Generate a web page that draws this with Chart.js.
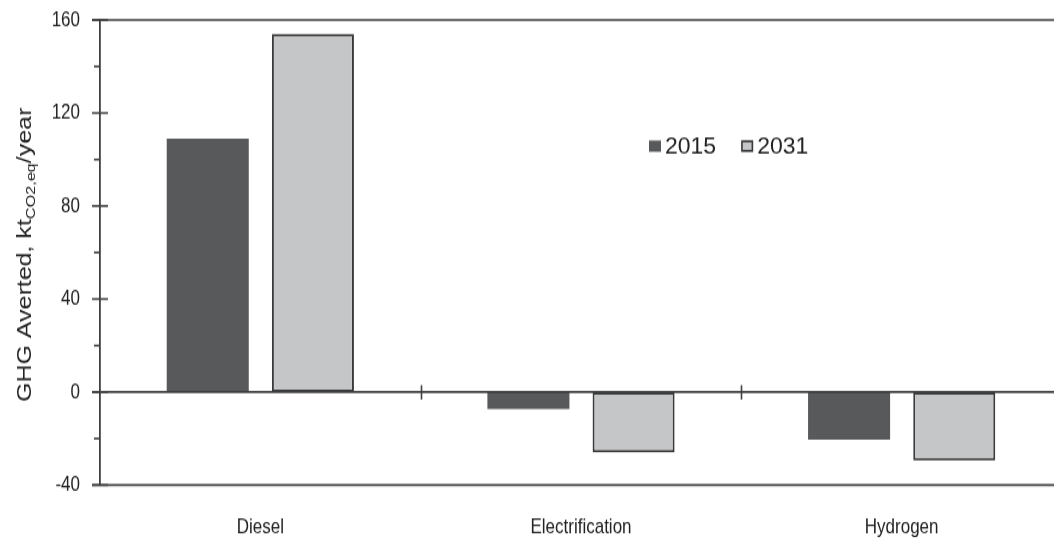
<!DOCTYPE html>
<html>
<head>
<meta charset="utf-8">
<script src="https://cdn.jsdelivr.net/npm/chart.js@4.4.1/dist/chart.umd.min.js"></script>
<style>
  html, body { margin: 0; padding: 0; background: #fff; overflow: hidden; }
  #wrap { width: 1054px; height: 542px; overflow: hidden; position: relative; }
  /* the figure is drawn in a shorter canvas and stretched vertically */
  #stretch { width: 1062px; height: 434px; transform: scaleY(1.24885); transform-origin: 0 0; }
  canvas { display: block; }
</style>
</head>
<body>
<div id="wrap"><div id="stretch"><canvas id="c" width="1062" height="434"></canvas></div></div>
<script>
// Annual GHG emissions averted by each fuel pathway
const categories = ['Diesel', 'Electrification', 'Hydrogen'];
const seriesNames = ['2015', '2031'];
const averted2015 = [109, -7.3, -20.5];
const averted2031 = [154, -26, -29.5];
const yMin = -40;
const yMax = 160;
const yMajorStep = 40;
const yMinorStep = 20;

const STRETCH = 542 / 434;
const FONT = '"Liberation Sans", Arial, Helvetica, sans-serif';
const INK = '#222222';
const AXIS = '#3f3f3f';
const DARK = '#58595b';
const LIGHT = '#c4c6c7';
const EDGE = '#3a3a3a';

// Axis frame, tick marks, legend and the rotated axis title with subscript
const framePlugin = {
  id: 'frame',
  afterDatasetsDraw(chart) {
    const ctx = chart.ctx;
    const y = chart.scales.y;
    const x = chart.scales.x;
    const axisX = chart.chartArea.left;
    const rightEdge = chart.width;
    ctx.save();
    ctx.strokeStyle = AXIS;
    ctx.lineWidth = 1.6;
    ctx.lineCap = 'butt';

    // top, bottom and zero lines
    [yMax, yMin, 0].forEach(v => {
      const py = y.getPixelForValue(v);
      ctx.beginPath();
      ctx.moveTo(axisX - 8, py);
      ctx.lineTo(rightEdge, py);
      ctx.stroke();
    });

    // major ticks cross the axis, minor ticks sit outside it
    for (let v = yMin; v <= yMax + 1e-9; v += yMinorStep) {
      const py = y.getPixelForValue(v);
      const major = Math.abs(v / yMajorStep - Math.round(v / yMajorStep)) < 1e-9;
      ctx.beginPath();
      if (major) {
        ctx.moveTo(axisX - 8, py);
        ctx.lineTo(axisX + 8, py);
      } else {
        ctx.moveTo(axisX - 6, py);
        ctx.lineTo(axisX, py);
      }
      ctx.stroke();
    }

    // category separators on the zero line
    const zy = y.getPixelForValue(0);
    for (let i = 0; i < categories.length - 1; i++) {
      const px = Math.round((x.getPixelForValue(i) + x.getPixelForValue(i + 1)) / 2) + 0.5;
      ctx.beginPath();
      ctx.moveTo(px, zy - 5.5);
      ctx.lineTo(px, zy + 6);
      ctx.stroke();
    }

    // legend (text kept at its natural proportions)
    const ds = chart.data.datasets;
    ctx.font = '23px ' + FONT;
    ctx.textBaseline = 'middle';
    ctx.textAlign = 'left';
    let lx = 649;
    const ly = 117;
    ds.forEach((d) => {
      const sw = 12, sh = 9;
      ctx.fillStyle = d.backgroundColor;
      ctx.fillRect(lx, ly - sh / 2, sw, sh);
      if (d.borderWidth) {
        ctx.strokeStyle = d.borderColor;
        ctx.lineWidth = 1.6;
        ctx.strokeRect(lx + 0.8, ly - sh / 2 + 0.7, sw - 1.6, sh - 1.4);
      }
      ctx.fillStyle = INK;
      ctx.save();
      ctx.translate(lx + sw + 4, ly + 0.8);
      ctx.scale(1, 1 / STRETCH);
      ctx.fillText(d.label, 0, 0);
      ctx.restore();
      lx += sw + 4 + ctx.measureText(d.label).width + 25;
    });

    // y axis title: GHG Averted, kt(CO2,eq)/year
    const mainTxt = 'GHG Averted, kt';
    const subTxt = 'CO2,eq';
    const tailTxt = '/year';
    const mainFont = '20px ' + FONT;
    const subFont = '13px ' + FONT;
    ctx.font = mainFont;
    const w1 = ctx.measureText(mainTxt).width;
    const w3 = ctx.measureText(tailTxt).width;
    ctx.font = subFont;
    const w2 = ctx.measureText(subTxt).width;
    const total = w1 + w2 + w3;
    ctx.translate(31, 204);
    ctx.rotate(-Math.PI / 2);
    ctx.fillStyle = INK;
    ctx.textBaseline = 'alphabetic';
    let tx = -total / 2;
    ctx.font = mainFont;
    ctx.fillText(mainTxt, tx, 0);
    tx += w1;
    ctx.font = subFont;
    ctx.fillText(subTxt, tx, 4);
    tx += w2;
    ctx.font = mainFont;
    ctx.fillText(tailTxt, tx, 0);
    ctx.restore();
  }
};

new Chart(document.getElementById('c'), {
  type: 'bar',
  data: {
    labels: categories,
    datasets: [
      {
        label: seriesNames[0],
        data: averted2015,
        backgroundColor: DARK,
        borderColor: DARK,
        borderWidth: 0
      },
      {
        label: seriesNames[1],
        data: averted2031,
        backgroundColor: LIGHT,
        borderColor: EDGE,
        borderWidth: 2,
        borderSkipped: false
      }
    ]
  },
  options: {
    responsive: false,
    animation: false,
    devicePixelRatio: 1,
    categoryPercentage: 0.656,
    barPercentage: 0.78,
    layout: { padding: { top: 16, right: 0, left: 0, bottom: 0 } },
    plugins: {
      legend: { display: false },
      tooltip: { enabled: false }
    },
    scales: {
      x: {
        grid: { display: false, drawTicks: true, tickLength: 24 },
        border: { display: false },
        ticks: {
          color: INK,
          font: { family: FONT, size: 17 },
          padding: 0,
          maxRotation: 0
        },
        afterFit(scale) { scale.height = 45.6; }
      },
      y: {
        min: yMin,
        max: yMax,
        grid: { display: false, drawTicks: true, tickLength: 20 },
        border: { display: true, color: AXIS, width: 1.8 },
        ticks: {
          stepSize: yMajorStep,
          color: INK,
          font: { family: FONT, size: 17 },
          padding: 0
        },
        afterFit(scale) { scale.width = 100; }
      }
    }
  },
  plugins: [framePlugin]
});
</script>
</body>
</html>
